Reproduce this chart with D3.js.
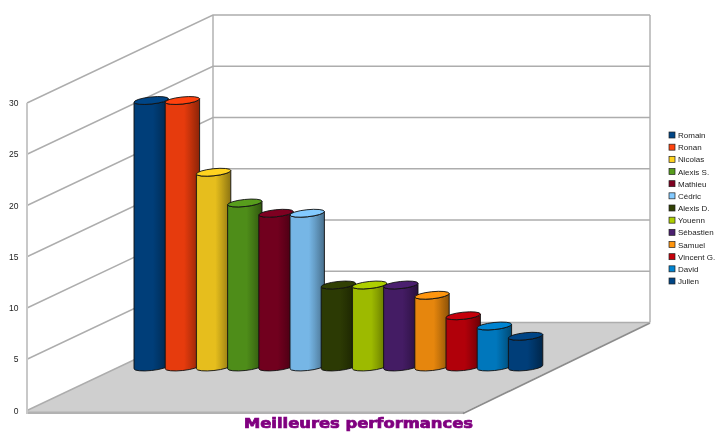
<!DOCTYPE html>
<html><head><meta charset="utf-8">
<script src="https://cdn.jsdelivr.net/npm/d3@7/dist/d3.min.js"></script>
<style>html,body{margin:0;padding:0;background:#fff}svg{display:block;filter:blur(0.4px)}</style>
</head><body><svg id="c" width="717" height="432"></svg>
<script>
const names = ["Romain","Ronan","Nicolas","Alexis S.","Mathieu","Cédric","Alexis D.","Youenn","Sébastien","Samuel","Vincent G.","David","Julien"];
const values = [26,26,19,16,15,15,8,8,8,7,5,4,3];
const colors = ["#004586","#ff420e","#ffd320","#579d1c","#7e0021","#83caff","#314004","#aecf00","#4b1f6f","#ff950e","#c5000b","#0084d1","#004586"];
const yTicks = [0,5,10,15,20,25,30];
const title = "Meilleures performances";

const svg = d3.select("#c");
const W0 = 27, W1 = 213, R = 650, FR = 464, DX = W1 - W0, DY = 88;
const y = d3.scaleLinear().domain([0,30]).range([410.5,103]);
const x = d3.scaleBand().domain(names).range([134,134+13*31.2]);
const barShift = 43.5, bw = x.bandwidth()+3.2, rx = bw/2, ry = 3.5, tilt = -6, tip = 1.8;

// floor
svg.append("path").attr("d",`M${W0},${y(0)}L${W1},${y(0)-DY}L${R},${y(0)-DY}L${FR},${y(0)+1.5}L${W0},${y(0)+1.5}Z`).attr("fill","#cfcfcf");
svg.append("path").attr("d",`M${W0},${y(0)+2.2}L${FR},${y(0)+2.2}`).attr("stroke","#b2b2b2").attr("stroke-width",2.4);
svg.append("path").attr("d",`M${FR-1},${y(0)+3}L${R},${y(0)-DY+0.5}`).attr("stroke","#8c8c8c").attr("stroke-width",1.8);

// grid
const grid = svg.append("g").attr("fill","none").attr("stroke","#adadad").attr("stroke-width",1.4);
yTicks.forEach(t=>{
  grid.append("path").attr("d",`M${W0},${y(t)}L${W1},${y(t)-DY}L${R},${y(t)-DY}`);
});
grid.append("path").attr("d",`M${W1},${y(30)-DY}V${y(0)-DY}`);
grid.append("path").attr("d",`M${R},${y(30)-DY}V${y(0)-DY}`);
svg.append("path").attr("d",`M${W0},${y(30)}V${y(0)+3.5}`).attr("stroke","#c8c8c8").attr("stroke-width",2);

// axis labels
svg.append("g").selectAll("text").data(yTicks).join("text")
  .attr("x",18.5).attr("y",d=>y(d)+3).attr("text-anchor","end")
  .attr("font-family","Liberation Sans").attr("font-size",8.5).attr("fill","#222").text(d=>d);

// gradients
const defs = svg.append("defs");
colors.forEach((c,i)=>{
  const base = d3.rgb(c);
  const mix = k => d3.rgb(base.r*k,base.g*k,base.b*k).formatHex();
  const g = defs.append("linearGradient").attr("id","g"+i);
  [[0,.86],[.06,.9],[.55,.9],[.72,.78],[1,.55]].forEach(([o,k])=>g.append("stop").attr("offset",o).attr("stop-color",mix(k)));
});

// cylinders
const bars = svg.append("g").selectAll("g").data(names).join("g");
const edge = "#111";
bars.each(function(n,i){
  const g = d3.select(this), L = x(n), Rr = L+bw, yb = y(0)-barShift, yt = y(values[i])-barShift;
  const arc = (tx,ty,sweep)=>`A${rx},${ry} ${tilt} 0 ${sweep} ${tx},${ty}`;
  g.append("path")
    .attr("d",`M${L},${yt+tip}L${L},${yb+tip}${arc(Rr,yb-tip,0)}L${Rr},${yt-tip}${arc(L,yt+tip,1)}Z`)
    .attr("fill",`url(#g${i})`).attr("stroke",edge).attr("stroke-width",1).attr("stroke-opacity",.9);
  g.append("path")
    .attr("d",`M${L},${yt+tip}${arc(Rr,yt-tip,1)}${arc(L,yt+tip,1)}Z`)
    .attr("fill",colors[i]).attr("stroke",edge).attr("stroke-width",1).attr("stroke-opacity",.9);
});

// legend
const ly = d3.scalePoint().domain(names).range([135,281]);
const leg = svg.append("g").selectAll("g").data(names).join("g").attr("transform",n=>`translate(669,${ly(n)})`);
leg.append("rect").attr("x",0).attr("y",-3).attr("width",6).attr("height",6)
  .attr("fill",(n,i)=>colors[i]).attr("stroke","#222").attr("stroke-width",.7);
leg.append("text").attr("x",9).attr("y",3).attr("font-family","Liberation Sans").attr("font-size",8).attr("fill","#222").text(n=>n);

// title
svg.append("text").attr("x",244).attr("y",428).attr("textLength",229).attr("lengthAdjust","spacingAndGlyphs")
  .attr("font-family","DejaVu Sans").attr("font-weight","bold").attr("font-size",13.5)
  .attr("fill","#800080").attr("stroke","#800080").attr("stroke-width",.7).text(title);
</script></body></html>
